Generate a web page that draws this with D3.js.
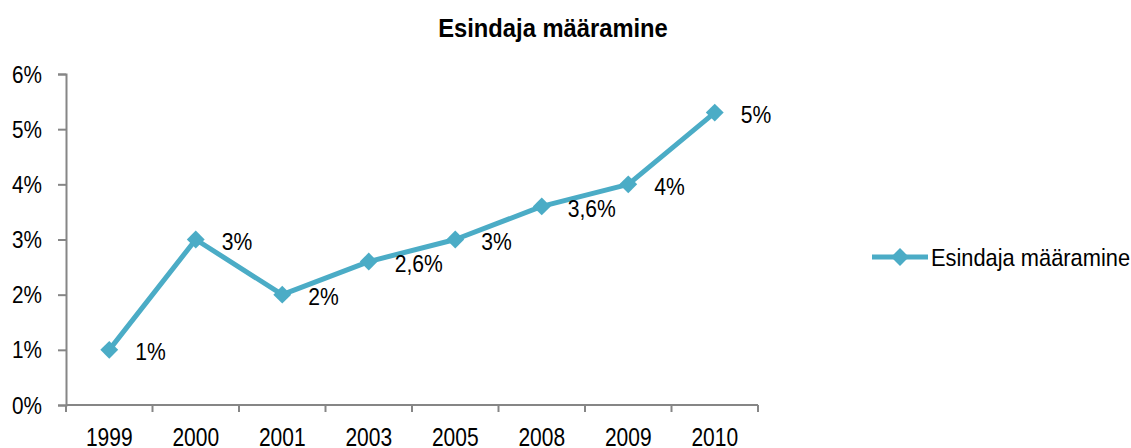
<!DOCTYPE html>
<html lang="et">
<head>
<meta charset="utf-8">
<title>Esindaja määramine</title>
<script src="https://cdn.jsdelivr.net/npm/d3@7"></script>
<style>
  body { margin: 0; background: #fff; }
  text { font-family: "Liberation Sans", Arial, sans-serif; fill: #000; }
  .title { font-weight: bold; }
</style>
</head>
<body>
<svg width="1131" height="448"></svg>
<script>
// data
var years = ["1999", "2000", "2001", "2003", "2005", "2008", "2009", "2010"];
var values = [1, 3, 2, 2.6, 3, 3.6, 4, 5.3];
var labels = ["1%", "3%", "2%", "2,6%", "3%", "3,6%", "4%", "5%"];
var yTicks = [0, 1, 2, 3, 4, 5, 6];
var seriesName = "Esindaja määramine";

var color = "#4bacc6";
var axisColor = "#868686";

var svg = d3.select("svg");

// narrow text: no condensed font here, so squeeze Liberation Sans
function narrowText(sel, x, y, size, sx, anchor, str) {
  return sel.append("text")
    .attr("transform", "translate(" + x + "," + y + ") scale(" + sx + ",1)")
    .attr("text-anchor", anchor || "start")
    .style("font-size", size + "px")
    .text(str);
}

// scales
var x = d3.scaleBand()
    .domain(years)
    .range([66, 758]);

var y = d3.scaleLinear()
    .domain([0, 6])
    .range([405, 74]);

// title
narrowText(svg, 553, 37, 25, 0.95, "middle", seriesName).attr("class", "title");

// y axis
var yAxis = svg.append("g")
  .attr("transform", "translate(66,0)")
  .call(d3.axisLeft(y).tickValues(yTicks).tickSize(8).tickFormat(""));
yAxis.select(".domain").attr("stroke", axisColor).attr("stroke-width", 2);
yAxis.selectAll(".tick line").attr("stroke", axisColor).attr("stroke-width", 2);
yTicks.forEach(function(t) {
  narrowText(svg, 42, y(t) + 8.5, 24, 0.865, "end", t + "%");
});

// x axis (ticks at band edges)
var xAxis = svg.append("g")
  .attr("transform", "translate(0,405)");
xAxis.append("line")
  .attr("x1", 66).attr("x2", 758)
  .attr("stroke", axisColor).attr("stroke-width", 2);
var edges = years.map(function(d) { return x(d); }).concat([x.range()[1]]);
xAxis.selectAll(".edge")
  .data(edges)
  .enter().append("line")
    .attr("x1", function(d) { return d; })
    .attr("x2", function(d) { return d; })
    .attr("y1", 0).attr("y2", 7)
    .attr("stroke", axisColor).attr("stroke-width", 2);
years.forEach(function(d) {
  narrowText(svg, x(d) + x.bandwidth() / 2, 446, 25, 0.84, "middle", d);
});

// line
var cx = function(i) { return x(years[i]) + x.bandwidth() / 2; };
var line = d3.line()
  .x(function(d, i) { return cx(i); })
  .y(function(d) { return y(d); });

svg.append("path")
  .datum(values)
  .attr("fill", "none")
  .attr("stroke", color)
  .attr("stroke-width", 5)
  .attr("stroke-linejoin", "round")
  .attr("d", line);

var diamond = d3.symbol().type(d3.symbolSquare).size(160);

svg.selectAll(".pt")
  .data(values)
  .enter().append("path")
    .attr("d", diamond)
    .attr("fill", color)
    .attr("transform", function(d, i) {
      return "translate(" + cx(i) + "," + y(d) + ") rotate(45)";
    });

// data labels
values.forEach(function(v, i) {
  narrowText(svg, cx(i) + 26, y(v) + 10.5, 24, 0.88, "start", labels[i]);
});

// legend
var lg = svg.append("g").attr("transform", "translate(872,257)");
lg.append("line")
  .attr("x1", 0).attr("x2", 56)
  .attr("stroke", color).attr("stroke-width", 5);
lg.append("path")
  .attr("d", diamond)
  .attr("fill", color)
  .attr("transform", "translate(28,0) rotate(45)");
narrowText(lg, 59, 9, 24, 0.91, "start", seriesName);
</script>
</body>
</html>
